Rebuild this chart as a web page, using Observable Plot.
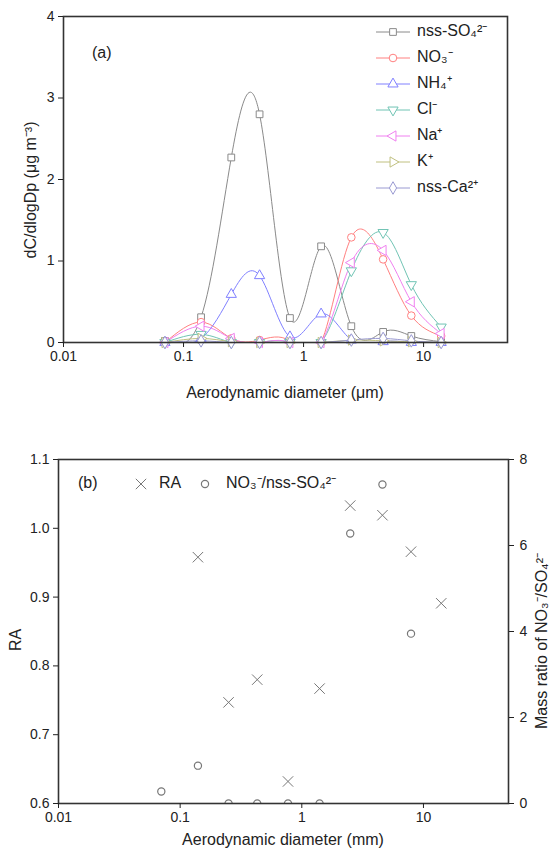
<!DOCTYPE html>
<html><head><meta charset="utf-8">
<script src="https://cdn.jsdelivr.net/npm/d3@7"></script>
<script src="https://cdn.jsdelivr.net/npm/@observablehq/plot@0.6"></script>
<style>
body{margin:0;background:#fff;font-family:"Liberation Sans",Arial,sans-serif;}
#wrap{width:553px;}
svg{display:block}
</style></head><body><div id="wrap"></div>
<script>
// ---- Panel (a) data ----
const diameters = [0.07, 0.14, 0.25, 0.43, 0.77, 1.4, 2.5, 4.6, 7.9, 14];
const so4 = [0.02, 0.31, 2.27, 2.80, 0.30, 1.18, 0.20, 0.13, 0.08, 0.01];
const no3 = [0.00, 0.25, 0.05, 0.03, 0.02, 0.00, 1.29, 1.02, 0.33, 0.08];
const nh4 = [0.00, 0.05, 0.59, 0.82, 0.07, 0.35, 0.03, 0.01, 0.00, 0.00];
const cl  = [0.00, 0.10, 0.00, 0.00, 0.00, 0.00, 0.88, 1.35, 0.71, 0.19];
const na  = [0.00, 0.20, 0.05, 0.00, 0.00, 0.00, 0.98, 1.13, 0.50, 0.11];
const kk  = [0.00, 0.05, 0.01, 0.00, 0.00, 0.00, 0.03, 0.02, 0.01, 0.00];
const ca  = [0.00, 0.02, 0.00, 0.00, 0.00, 0.00, 0.03, 0.05, 0.02, 0.00];
const seriesNames = ["nss-SO₄²⁻", "NO₃⁻", "NH₄⁺", "Cl⁻", "Na⁺", "K⁺", "nss-Ca²⁺"];
const seriesValues = [so4, no3, nh4, cl, na, kk, ca];
const seriesColors = ["#8a8a8a", "#ff8080", "#8080ff", "#70c4b4", "#f080f0", "#c0c080", "#9a9ad2"];
const xTicks = [0.01, 0.1, 1, 10];
const yTicksA = [0, 1, 2, 3, 4];

// ---- Panel (b) data ----
const raDiam = [0.14, 0.25, 0.43, 0.77, 1.4, 2.5, 4.6, 7.9, 14];
const raValues = [0.958, 0.747, 0.780, 0.632, 0.767, 1.033, 1.019, 0.966, 0.891];
const ratioDiam = [0.07, 0.14, 0.25, 0.43, 0.77, 1.4, 2.5, 4.6, 7.9];
const ratioValues = [0.28, 0.88, 0, 0, 0, 0, 6.28, 7.42, 3.95];
const yTicksRA = [0.6, 0.7, 0.8, 0.9, 1.0, 1.1];
const yTicksRatio = [0, 2, 4, 6, 8];

function tri(rot) {
  return {draw(ctx, size) {
    const y = -Math.sqrt(size / (Math.sqrt(3) * 3));
    const pts = [[0, y * 2], [-Math.sqrt(3) * y, -y], [Math.sqrt(3) * y, -y]];
    const c = Math.cos(rot), s = Math.sin(rot);
    pts.forEach(([px, py], i) => {
      const X = px * c - py * s, Y = px * s + py * c;
      i ? ctx.lineTo(X, Y) : ctx.moveTo(X, Y);
    });
    ctx.closePath();
  }};
}
const symbols = [d3.symbolSquare, d3.symbolCircle, tri(0), tri(Math.PI), tri(-Math.PI / 2), tri(Math.PI / 2), d3.symbolDiamond];
const R = 3.8;

const wrap = d3.select("#wrap");
const font = "Liberation Sans, Arial, sans-serif";

// ---------- Panel (a) ----------
const marksA = [];
seriesNames.forEach((name, i) => {
  const data = diameters.map((d, j) => ({d, v: seriesValues[i][j]}));
  marksA.push(Plot.line(data, {x: "d", y: "v", stroke: seriesColors[i], strokeWidth: 1, curve: "natural", clip: true}));
});
seriesNames.forEach((name, i) => {
  const data = diameters.map((d, j) => ({d, v: seriesValues[i][j]}));
  marksA.push(Plot.dot(data, {x: "d", y: "v", stroke: seriesColors[i], fill: "white", symbol: symbols[i], r: R, strokeWidth: 1}));
});

const plotA = Plot.plot({
  width: 553, height: 410,
  marginLeft: 63, marginRight: 46, marginTop: 16, marginBottom: 68,
  style: {fontFamily: font, fontSize: "14px", color: "#222", background: "white"},
  x: {type: "log", domain: [0.01, 50]},
  y: {domain: [0, 4]},
  marks: [
    ...marksA,
    Plot.frame({stroke: "#333", strokeWidth: 1.6}),
    Plot.axisX({ticks: xTicks, tickFormat: d => String(d), label: null, tickSize: 5, tickPadding: 4}),
    Plot.axisY({ticks: yTicksA, tickFormat: d => String(d), label: null, tickSize: 5, tickPadding: 4})
  ]
});
wrap.node().appendChild(plotA);
{
  const svg = d3.select(plotA);
  const g = svg.append("g").attr("font-family", font).attr("fill", "#222").attr("text-anchor", "start");
  g.append("text").attr("x", 92).attr("y", 54).attr("font-size", 16).attr("dominant-baseline", "middle").text("(a)");
  g.append("text").attr("x", 285).attr("y", 398).attr("font-size", 16).attr("text-anchor", "middle").text("Aerodynamic diameter (μm)");
  g.append("text").attr("transform", "translate(36,190) rotate(-90)").attr("font-size", 16).attr("text-anchor", "middle").text("dC/dlogDp (μg m⁻³)");
  seriesNames.forEach((name, i) => {
    const y = 32 + i * 26;
    g.append("line").attr("x1", 376).attr("x2", 410).attr("y1", y).attr("y2", y).attr("stroke", seriesColors[i]).attr("stroke-width", 1);
    g.append("path").attr("transform", `translate(393,${y})`).attr("d", d3.symbol(symbols[i], Math.PI * R * R)())
      .attr("fill", "white").attr("stroke", seriesColors[i]);
    g.append("text").attr("x", 417).attr("y", y).attr("dominant-baseline", "middle").attr("font-size", 16).text(name);
  });
}

// ---------- Panel (b) ----------
const toRA = r => 0.6 + r * 0.5 / 8;
const raData = raDiam.map((d, i) => ({d, v: raValues[i]}));
const ratioData = ratioDiam.map((d, i) => ({d, v: ratioValues[i]}));
const plotB = Plot.plot({
  width: 553, height: 439,
  marginLeft: 58, marginRight: 45, marginTop: 49, marginBottom: 46,
  style: {fontFamily: font, fontSize: "14px", color: "#222", background: "white"},
  x: {type: "log", domain: [0.01, 50]},
  y: {domain: [0.6, 1.1]},
  marks: [
    Plot.dot(raData, {x: "d", y: "v", symbol: "times", r: 4.8, stroke: "#777", strokeWidth: 1}),
    Plot.dot(ratioData, {x: "d", y: d => toRA(d.v), symbol: "circle", r: 3.6, stroke: "#777", fill: "none", strokeWidth: 1.2, clip: true}),
    Plot.frame({stroke: "#333", strokeWidth: 1.6}),
    Plot.axisX({ticks: xTicks, tickFormat: d => String(d), label: null, tickSize: 5, tickPadding: 4}),
    Plot.axisY({ticks: yTicksRA, tickFormat: d3.format(".1f"), label: null, tickSize: 5, tickPadding: 4}),
    Plot.axisY({anchor: "right", ticks: yTicksRatio.map(toRA), tickFormat: v => String(Math.round((v - 0.6) * 16)), label: null, tickSize: 5, tickPadding: 6})
  ]
});
wrap.node().appendChild(plotB);
{
  const svg = d3.select(plotB);
  const g = svg.append("g").attr("font-family", font).attr("fill", "#222").attr("text-anchor", "start");
  const ly = 74;
  g.append("text").attr("x", 78).attr("y", ly).attr("font-size", 16).attr("dominant-baseline", "middle").text("(b)");
  g.append("path").attr("transform", `translate(141,${ly})`).attr("d", d3.symbol(d3.symbolTimes, Math.PI * 4.8 * 4.8)()).attr("fill", "none").attr("stroke", "#777");
  g.append("text").attr("x", 159).attr("y", ly).attr("font-size", 16).attr("dominant-baseline", "middle").text("RA");
  g.append("circle").attr("cx", 205).attr("cy", ly).attr("r", 3.6).attr("fill", "none").attr("stroke", "#777").attr("stroke-width", 1.2);
  g.append("text").attr("x", 226).attr("y", ly).attr("font-size", 16).attr("dominant-baseline", "middle").text("NO₃⁻/nss-SO₄²⁻");
  g.append("text").attr("x", 283).attr("y", 435).attr("font-size", 16).attr("text-anchor", "middle").text("Aerodynamic diameter (mm)");
  g.append("text").attr("transform", "translate(21,230) rotate(-90)").attr("font-size", 16).attr("text-anchor", "middle").text("RA");
  g.append("text").attr("transform", "translate(547,231) rotate(-90)").attr("font-size", 16).attr("text-anchor", "middle").text("Mass ratio of NO₃⁻/SO₄²⁻");
}
</script></body></html>
